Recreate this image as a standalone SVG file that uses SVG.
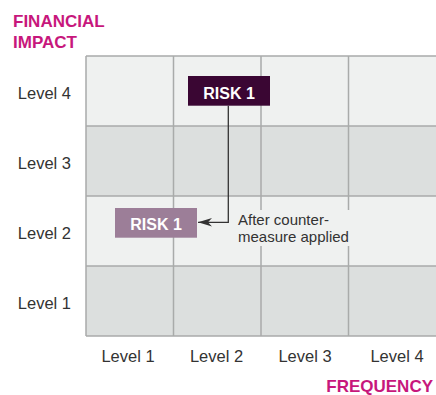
<svg xmlns="http://www.w3.org/2000/svg" width="436" height="395" viewBox="0 0 436 395">
<defs>
<style>
.axis{font-family:"Liberation Sans",Arial,sans-serif;font-weight:bold;font-size:17px;fill:#c7177c}
.lvl{font-family:"Liberation Sans",Arial,sans-serif;font-size:16.5px;fill:#333333}
.note{font-family:"Liberation Sans",Arial,sans-serif;font-size:15px;fill:#333333}
.risk{font-family:"Liberation Sans",Arial,sans-serif;font-weight:bold;font-size:16px;fill:#ffffff}
.gl{stroke:#a9abaa;stroke-width:1.5;fill:none}
.light{fill:#eff1f0}
.dark{fill:#dcdfde}
</style>
<marker id="arr" viewBox="0 0 14 10" refX="14" refY="5" markerWidth="14" markerHeight="10" markerUnits="userSpaceOnUse" orient="auto">
<path d="M14,5 L0,0.8 L4,5 L0,9.2 Z" fill="#333333"/>
</marker>
</defs>
<rect width="436" height="395" fill="#ffffff"/>
<g id="grid">
<rect class="light" x="86" y="56" width="350" height="70"/>
<rect class="dark" x="86" y="126" width="350" height="70"/>
<rect class="light" x="86" y="196" width="350" height="70"/>
<rect class="dark" x="86" y="266" width="350" height="70"/>
<path class="gl" d="M86,56H436M86,126H436M86,196H436M86,266H436M86,336H436M86,56V336M173.5,56V336M261,56V336M348.5,56V336"/>
</g>
<g id="axis-labels">
<text class="axis" x="13" y="26.5">FINANCIAL</text>
<text class="axis" x="13" y="48">IMPACT</text>
<text class="axis" x="433" y="392" text-anchor="end" font-size="16.5">FREQUENCY</text>
<text class="lvl" x="71" y="98.5" text-anchor="end">Level 4</text>
<text class="lvl" x="71" y="168.5" text-anchor="end">Level 3</text>
<text class="lvl" x="71" y="238.5" text-anchor="end">Level 2</text>
<text class="lvl" x="71" y="308.5" text-anchor="end">Level 1</text>
<text class="lvl" x="128" y="362" text-anchor="middle">Level 1</text>
<text class="lvl" x="216.5" y="362" text-anchor="middle">Level 2</text>
<text class="lvl" x="305" y="362" text-anchor="middle">Level 3</text>
<text class="lvl" x="397" y="362" text-anchor="middle">Level 4</text>
</g>
<g id="connectors">
<path d="M228.3,105.7V222.3H198" fill="none" stroke="#333333" stroke-width="1.3" marker-end="url(#arr)"/>
</g>
<g id="note">
<rect class="light" x="234" y="210" width="123" height="36"/>
<text class="note" x="238" y="225">After counter-</text>
<text class="note" x="238" y="242">measure applied</text>
</g>
<g id="risk-before">
<rect x="188" y="76" width="82" height="29.7" fill="#3a0633"/>
<text class="risk" x="229" y="98.5" text-anchor="middle">RISK 1</text>
</g>
<g id="risk-after">
<rect x="115" y="208" width="82" height="29.7" fill="#9c7e98"/>
<text class="risk" x="156" y="230" text-anchor="middle">RISK 1</text>
</g>
</svg>
